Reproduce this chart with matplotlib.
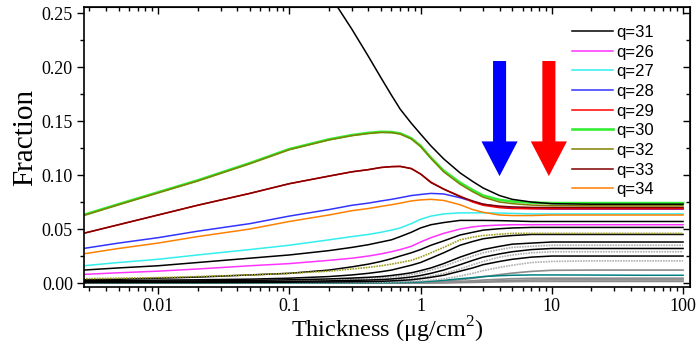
import matplotlib
matplotlib.use('Agg')
import matplotlib.pyplot as plt
from matplotlib.patches import FancyArrowPatch
from matplotlib.ticker import LogLocator, FixedLocator, MultipleLocator, FuncFormatter, NullFormatter

thickness = [0.0027, 0.005, 0.01, 0.02, 0.05, 0.1, 0.2, 0.3, 0.4, 0.5, 0.6, 0.7, 0.85,
             1, 1.2, 1.5, 2, 2.5, 3, 4, 5, 7, 10, 20, 50, 100]

# labelled charge states
q31 = [None, None, None, None, None, None, 0.268, 0.235, 0.210, 0.190, 0.174, 0.161, 0.148,
       0.138, 0.127, 0.115, 0.102, 0.094, 0.088, 0.081, 0.0775, 0.075, 0.0735, 0.073, 0.073, 0.073]
q26 = [0.008, 0.0095, 0.011, 0.013, 0.016, 0.018, 0.021, 0.023, 0.025, 0.027, 0.029, 0.031, 0.034,
       0.038, 0.042, 0.046, 0.050, 0.052, 0.053, 0.0537, 0.054, 0.054, 0.054, 0.054, 0.054, 0.054]
q27 = [0.016, 0.019, 0.022, 0.026, 0.031, 0.035, 0.040, 0.043, 0.045, 0.047, 0.049, 0.051, 0.055,
       0.059, 0.062, 0.064, 0.065, 0.065, 0.065, 0.0648, 0.0645, 0.064, 0.064, 0.064, 0.064, 0.064]
q28 = [0.032, 0.037, 0.042, 0.048, 0.055, 0.062, 0.068, 0.072, 0.074, 0.076, 0.0775, 0.079, 0.081,
       0.082, 0.083, 0.0825, 0.079, 0.0755, 0.073, 0.0705, 0.0695, 0.069, 0.0685, 0.0685, 0.0685, 0.0685]
q29 = [0.046, 0.054, 0.063, 0.072, 0.083, 0.092, 0.099, 0.103, 0.105, 0.107, 0.1078, 0.108, 0.106,
       0.101, 0.0935, 0.087, 0.0805, 0.075, 0.072, 0.0698, 0.069, 0.0688, 0.0688, 0.0688, 0.0688, 0.0688]
q30 = [0.063, 0.073, 0.084, 0.095, 0.111, 0.124, 0.133, 0.137, 0.139, 0.140, 0.1398, 0.1385, 0.134,
       0.127, 0.116, 0.104, 0.093, 0.086, 0.081, 0.077, 0.0755, 0.0745, 0.074, 0.074, 0.074, 0.074]
q32 = [0.0625, 0.0725, 0.0835, 0.0945, 0.1105, 0.1235, 0.1325, 0.1365, 0.1385, 0.1395, 0.1393, 0.138, 0.1335,
       0.1265, 0.1155, 0.103, 0.0915, 0.0845, 0.0795, 0.075, 0.0735, 0.0722, 0.0717, 0.0715, 0.0715, 0.0715]
q33 = [0.046, 0.054, 0.063, 0.072, 0.083, 0.092, 0.099, 0.103, 0.105, 0.107, 0.1078, 0.108, 0.106,
       0.101, 0.093, 0.087, 0.080, 0.076, 0.073, 0.0712, 0.0705, 0.070, 0.070, 0.070, 0.070, 0.070]
q34 = [0.027, 0.032, 0.037, 0.043, 0.050, 0.057, 0.063, 0.067, 0.069, 0.071, 0.0725, 0.074, 0.076,
       0.077, 0.0775, 0.0765, 0.0725, 0.068, 0.0655, 0.063, 0.0625, 0.0625, 0.063, 0.063, 0.063, 0.063]

# unlabelled charge states
black_a = [0.012, 0.014, 0.016, 0.019, 0.023, 0.026, 0.030, 0.033, 0.0355, 0.038, 0.040, 0.043, 0.047,
           0.051, 0.054, 0.056, 0.058, 0.058, 0.058, 0.0578, 0.0575, 0.057, 0.057, 0.057, 0.057, 0.057]
black_b = [0.003, 0.0035, 0.0045, 0.0055, 0.0075, 0.009, 0.012, 0.015, 0.0175, 0.020, 0.0225, 0.025, 0.028,
           0.031, 0.035, 0.039, 0.0445, 0.047, 0.049, 0.0503, 0.051, 0.0515, 0.0515, 0.0515, 0.0515, 0.0515]
olive_dot = [0.004, 0.0045, 0.005, 0.006, 0.0075, 0.009, 0.011, 0.013, 0.0145, 0.016, 0.0175, 0.019, 0.021,
             0.024, 0.028, 0.033, 0.040, 0.0425, 0.044, 0.0452, 0.046, 0.046, 0.046, 0.046, 0.046, 0.046]
black_c = [0.0022, 0.0024, 0.0027, 0.003, 0.0036, 0.0045, 0.006, 0.0075, 0.009, 0.0105, 0.012, 0.014, 0.0165,
           0.019, 0.023, 0.028, 0.035, 0.0385, 0.041, 0.043, 0.044, 0.045, 0.045, 0.045, 0.045, 0.045]
black_d = [0.0015, 0.0016, 0.0018, 0.002, 0.0024, 0.003, 0.0038, 0.0046, 0.0053, 0.006, 0.007, 0.008, 0.0095,
           0.0115, 0.014, 0.018, 0.024, 0.028, 0.031, 0.034, 0.036, 0.037, 0.038, 0.038, 0.038, 0.038]
black_e = [0.0008, 0.0009, 0.001, 0.0011, 0.0013, 0.0015, 0.002, 0.0025, 0.0028, 0.0032, 0.0038, 0.0045, 0.0056,
           0.007, 0.009, 0.012, 0.017, 0.021, 0.024, 0.027, 0.029, 0.031, 0.032, 0.032, 0.032, 0.032]
black_f = [0.0004, 0.0004, 0.0005, 0.0005, 0.0006, 0.0008, 0.001, 0.0012, 0.0014, 0.0016, 0.002, 0.0024, 0.003,
           0.004, 0.0053, 0.0072, 0.011, 0.014, 0.017, 0.020, 0.022, 0.024, 0.025, 0.025, 0.025, 0.025]
grey_dot_a = [0.0012, 0.0013, 0.0014, 0.0016, 0.002, 0.0025, 0.003, 0.0036, 0.0042, 0.0048, 0.0056, 0.0065, 0.0078,
              0.0095, 0.012, 0.0155, 0.021, 0.025, 0.028, 0.031, 0.033, 0.034, 0.035, 0.035, 0.035, 0.035]
grey_dot_b = [0.0006, 0.0006, 0.0007, 0.0008, 0.001, 0.0012, 0.0015, 0.0018, 0.0021, 0.0024, 0.0028, 0.0032, 0.004,
              0.005, 0.0065, 0.0088, 0.013, 0.017, 0.020, 0.024, 0.026, 0.028, 0.029, 0.029, 0.029, 0.029]
grey_dot_c = [0.0002, 0.0002, 0.0002, 0.0003, 0.0003, 0.0004, 0.0005, 0.0006, 0.0007, 0.0008, 0.001, 0.0012, 0.0015,
              0.002, 0.0027, 0.0038, 0.0065, 0.009, 0.0115, 0.0145, 0.0165, 0.019, 0.020, 0.0205, 0.0205, 0.0205]
grey_a = [0.0001, 0.0001, 0.0001, 0.0001, 0.0002, 0.0002, 0.0003, 0.0004, 0.0004, 0.0005, 0.0006, 0.0007, 0.0008,
          0.001, 0.0013, 0.0018, 0.003, 0.0044, 0.0058, 0.0078, 0.0092, 0.0108, 0.0118, 0.012, 0.012, 0.012]
teal = [0.0, 0.0, 0.0, 0.0, 0.0, 0.0001, 0.0001, 0.0002, 0.0002, 0.0003, 0.0004, 0.0005, 0.0007,
        0.001, 0.0016, 0.0025, 0.004, 0.005, 0.006, 0.0068, 0.0072, 0.0075, 0.0075, 0.0074, 0.0072, 0.0072]
grey_b = [0.0, 0.0, 0.0, 0.0, 0.0, 0.0, 0.0001, 0.0001, 0.0001, 0.0001, 0.0002, 0.0002, 0.0002,
          0.0003, 0.0005, 0.0008, 0.0015, 0.0021, 0.0028, 0.0035, 0.004, 0.0044, 0.0045, 0.0045, 0.0045, 0.0045]
grey_c = [0.0, 0.0, 0.0, 0.0, 0.0, 0.0, 0.0, 0.0, 0.0, 0.0001, 0.0001, 0.0001, 0.0001,
          0.0002, 0.0003, 0.0004, 0.0008, 0.0012, 0.0016, 0.0021, 0.0025, 0.0028, 0.0029, 0.0029, 0.0029, 0.0029]
grey_d = [0.0, 0.0, 0.0, 0.0, 0.0, 0.0, 0.0, 0.0, 0.0, 0.0, 0.0, 0.0, 0.0,
          0.0001, 0.0001, 0.0002, 0.0004, 0.0006, 0.0008, 0.0011, 0.0013, 0.0015, 0.0015, 0.0015, 0.0015, 0.0015]

x_ticks = [0.01, 0.1, 1, 10, 100]
x_tick_labels = ['0.01', '0.1', '1', '10', '100']


def main():
    plt.rcParams['font.family'] = ['Liberation Serif', 'DejaVu Serif']
    plt.rcParams['mathtext.fontset'] = 'custom'
    plt.rcParams['mathtext.rm'] = 'Liberation Serif'
    fig = plt.figure(figsize=(6.96, 3.45), dpi=100)
    ax = fig.add_axes([0.1207, 0.168, 0.8707, 0.8117])

    def line(y, color, lw=1.0, ls='-', label=None, z=2):
        assert len(y) == len(thickness)
        xs = [t for t, v in zip(thickness, y) if v is not None]
        ys = [v for v in y if v is not None]
        return ax.plot(xs, ys, color=color, lw=lw, ls=ls, label=label, zorder=z)[0]

    # background bunch
    for y in [grey_d, grey_c, grey_b, grey_a]:
        line(y, '#8c8c8c', lw=1.2)
    line(teal, '#008080', lw=1.1)
    for y in [grey_dot_c, grey_dot_b, grey_dot_a]:
        line(y, '#b0b0b0', lw=1.2, ls=(0, (1, 0.6)))
    for y in [black_f, black_e, black_d, black_c, black_b, black_a]:
        line(y, 'black', lw=1.1)
    line(olive_dot, '#a0a020', lw=1.2, ls=(0, (1, 0.6)))

    h26 = line(q26, '#ff33ff', lw=1.1, label='q=26')
    h27 = line(q27, '#33eeee', lw=1.1, label='q=27')
    h34 = line(q34, '#ff8000', lw=1.1, label='q=34')
    h28 = line(q28, '#3333ff', lw=1.1, label='q=28')
    h29 = line(q29, '#ff0000', lw=1.1, label='q=29')
    h33 = line(q33, '#800000', lw=1.1, label='q=33')
    h30 = line(q30, '#33ee33', lw=1.9, label='q=30')
    h32 = line(q32, '#808000', lw=1.1, label='q=32')
    h31 = line(q31, 'black', lw=1.1, label='q=31')

    # arrows
    for xa, col in [(4.0, '#0000ff'), (9.5, '#ff0000')]:
        ax.add_patch(FancyArrowPatch((xa, 0.2056), (xa, 0.099),
                                     arrowstyle='simple,head_length=25,head_width=26,tail_width=9.4',
                                     mutation_scale=1, color=col, shrinkA=0, shrinkB=0,
                                     lw=0, zorder=5))

    ax.set_xscale('log')
    ax.set_xlim(0.002729, 113)
    ax.set_ylim(-0.0037, 0.2556)

    ax.xaxis.set_major_locator(FixedLocator(x_ticks))
    ax.set_xticklabels(x_tick_labels)
    ax.xaxis.set_minor_locator(LogLocator(base=10, subs=range(2, 10)))
    ax.xaxis.set_minor_formatter(NullFormatter())
    ax.yaxis.set_major_locator(MultipleLocator(0.05))
    ax.yaxis.set_minor_locator(MultipleLocator(0.025))
    ax.yaxis.set_major_formatter(FuncFormatter(lambda v, p: f'{v:.2f}'))

    ax.tick_params(which='both', direction='out', top=False, right=False, labelsize=13, width=1)
    ax.tick_params(which='major', length=5)
    ax.tick_params(which='minor', length=3)
    ax.tick_params(axis='x', pad=3)
    ax.tick_params(axis='y', pad=3)

    # inward ticks on top and right
    top = ax.secondary_xaxis('top')
    top.set_xscale('log')
    top.xaxis.set_major_locator(FixedLocator(x_ticks))
    top.xaxis.set_minor_locator(LogLocator(base=10, subs=range(2, 10)))
    top.tick_params(which='both', direction='in', labeltop=False, width=1)
    top.tick_params(which='major', length=5)
    top.tick_params(which='minor', length=3)
    top.xaxis.set_major_formatter(NullFormatter())
    top.xaxis.set_minor_formatter(NullFormatter())
    right = ax.secondary_yaxis('right')
    right.yaxis.set_major_locator(MultipleLocator(0.05))
    right.yaxis.set_minor_locator(MultipleLocator(0.025))
    right.tick_params(which='both', direction='in', labelright=False, width=1)
    right.tick_params(which='major', length=5)
    right.tick_params(which='minor', length=3)
    right.yaxis.set_major_formatter(NullFormatter())

    for s in ax.spines.values():
        s.set_linewidth(1.2)

    ax.set_xlabel('Thickness (\u03bcg/cm$^\\mathrm{2}$)', fontsize=17.5)
    ax.xaxis.set_label_coords(0.5, -0.1)
    ax.set_ylabel('Fraction', fontsize=21)
    ax.yaxis.set_label_coords(-0.075, 0.536)

    handles = [h31, h26, h27, h28, h29, h30, h32, h33, h34]
    ax.legend(handles=handles, labels=[h.get_label() for h in handles],
              loc='upper right', bbox_to_anchor=(0.954, 0.966), frameon=False,
              prop={'family': 'Liberation Sans', 'size': 12},
              handlelength=2.45, handletextpad=0.2, labelspacing=0.28, borderpad=0)

    plt.savefig('out.png', dpi=100)
    plt.close()


if __name__ == "__main__":
    main()
